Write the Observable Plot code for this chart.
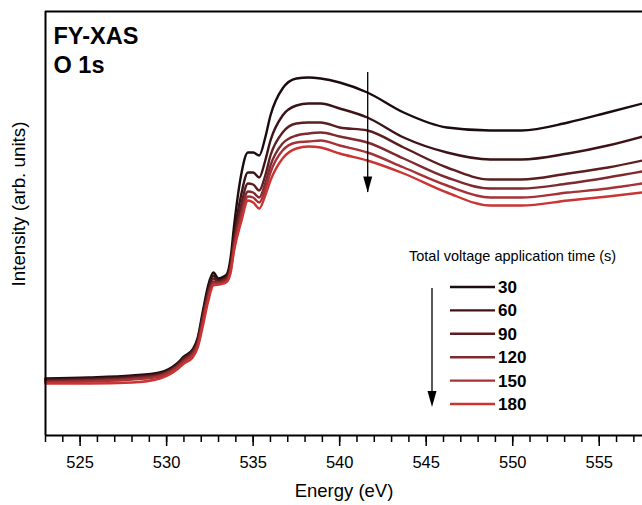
<!DOCTYPE html>
<html><head><meta charset="utf-8">
<script src="https://cdn.jsdelivr.net/npm/d3@7"></script>
<script src="https://cdn.jsdelivr.net/npm/@observablehq/plot@0.6"></script>
<style>
body{margin:0;background:#fff;}
#wrap{position:relative;width:642px;height:505px;font-family:Arial,"Liberation Sans",sans-serif;}
</style></head><body><div id="wrap"></div>
<script>
// Energy grid (eV)
const energy = [523, 525.5, 528, 529.6, 530.6, 531.0, 531.5, 531.8, 532.1, 532.4, 532.7, 533.0, 533.3, 533.5, 533.7, 533.9, 534.3, 534.7, 535.0, 535.35, 535.7, 536.0, 536.7, 537.5, 538.2, 538.9, 540.0, 541.6, 543.7, 546.2, 548.7, 550.5, 553.2, 555.5, 557.5];
// Intensity (arb. units) per total voltage application time
const t30  = [57,58,60,63,72,79,86,98,125,150,163,157,159,162,178,210,260,283,283,280,298,320,347,357,358,357,353,343,323,308,305,305,313,323,332];
const t60  = [56,57,59,62,71,78,85,96,122,146,160,155,157,160,173,200,240,263,263,258,275,295,320,330,332,332,327,318,298,283,276,276,282,290,299];
const t90  = [55,56,58,61,70,77,84,94,120,143,157,154,156,158,170,195,230,252,251,245,260,280,303,312,313,313,308,305,288,268,256,256,262,268,275];
const t120 = [54,55,57,60,69,75,82,92,117,140,154,153,155,157,167,191,223,244,243,238,252,270,292,300,302,303,299,293,277,258,247,247,252,258,264];
const t150 = [53,54,56,59,68,74,81,90,114,137,152,152,153,155,165,188,218,239,238,233,246,263,285,293,294,295,290,283,268,250,238,238,243,247,252];
const t180 = [52,52,53,57,66,72,78,88,110,134,150,151,152,154,163,185,213,235,233,227,240,255,277,287,289,288,282,275,262,243,230,230,235,239,243];
const times = ["30","60","90","120","150","180"];
const seriesValues = [t30, t60, t90, t120, t150, t180];
const colors = ["#1c0c0f","#3c1316","#5c1e21","#7e2a2e","#a53236","#cc3333"];
const majorTicks = [525, 530, 535, 540, 545, 550, 555];
const minorTicks = d3.range(523, 558, 1);

const rows = [];
times.forEach((t, i) => energy.forEach((e, j) => rows.push({energy: e, intensity: seriesValues[i][j], time: t})));

// annotation arrow (data coordinates)
const arrow = [{x: 541.62, y1: 363, y2: 243}];
const downArrow = {draw(ctx) { ctx.moveTo(-4.5, -16); ctx.lineTo(4.5, -16); ctx.lineTo(0, 0); ctx.closePath(); }};

const font = 'Arial, "Liberation Sans", sans-serif';
const chart = Plot.plot({
  width: 642, height: 505,
  marginTop: 11, marginBottom: 70, marginLeft: 45, marginRight: 0,
  style: {fontFamily: font, background: "white", color: "black", overflow: "visible"},
  x: {domain: [523, 557.5], label: null},
  y: {domain: [0, 424], axis: null},
  color: {domain: times, range: colors},
  marks: [
    Plot.axisX({ticks: minorTicks, tickSize: 7, tickFormat: () => "", strokeWidth: 1.5, label: null}),
    Plot.axisX({ticks: majorTicks, tickSize: 11, tickPadding: 10, fontSize: 16.5, strokeWidth: 1.5, label: null}),
    Plot.line(rows, {x: "energy", y: "intensity", z: "time", stroke: "time", strokeWidth: 2.4, curve: "monotone-x"}),
    Plot.ruleX([523], {strokeWidth: 2}),
    Plot.ruleY([0], {strokeWidth: 2}),
    Plot.ruleY([424], {strokeWidth: 2}),
    Plot.ruleX(arrow, {x: "x", y1: "y1", y2: "y2", strokeWidth: 1.3, stroke: "black"}),
    Plot.dot(arrow, {x: "x", y: "y2", symbol: downArrow, fill: "black", stroke: null, r: 4}),
    Plot.text(["FY-XAS"], {frameAnchor: "top-left", dx: 8, dy: 16, lineAnchor: "top", textAnchor: "start", fontSize: 23.5, fontWeight: "bold"}),
    Plot.text(["O 1s"], {frameAnchor: "top-left", dx: 8, dy: 45, lineAnchor: "top", textAnchor: "start", fontSize: 23.5, fontWeight: "bold"}),
    Plot.text(["Energy (eV)"], {frameAnchor: "bottom", dy: 56, lineAnchor: "middle", fontSize: 18.5})
  ]
});
document.getElementById("wrap").appendChild(chart);

// Overlay: y-axis title and legend
const leg = d3.select("#wrap").append("svg")
  .attr("width", 642).attr("height", 505)
  .style("position", "absolute").style("left", "0px").style("top", "0px")
  .style("font-family", font);
leg.append("text").attr("transform", "translate(25,204) rotate(-90)")
  .attr("text-anchor", "middle").attr("font-size", 18.8).text("Intensity (arb. units)");
leg.append("text").attr("x", 409).attr("y", 261).attr("font-size", 14.5).text("Total voltage application time (s)");
times.forEach((t, i) => {
  const y = 287 + i * 23.4;
  leg.append("line").attr("x1", 450).attr("x2", 495).attr("y1", y).attr("y2", y)
    .attr("stroke", colors[i]).attr("stroke-width", 2.4);
  leg.append("text").attr("x", 498).attr("y", y + 6).attr("font-size", 17).attr("font-weight", "bold").text(t);
});
leg.append("line").attr("x1", 432).attr("x2", 432).attr("y1", 288).attr("y2", 392).attr("stroke", "black").attr("stroke-width", 1.3);
leg.append("path").attr("d", "M427.5,391 L436.5,391 L432,407 Z").attr("fill", "black");
</script></body></html>
